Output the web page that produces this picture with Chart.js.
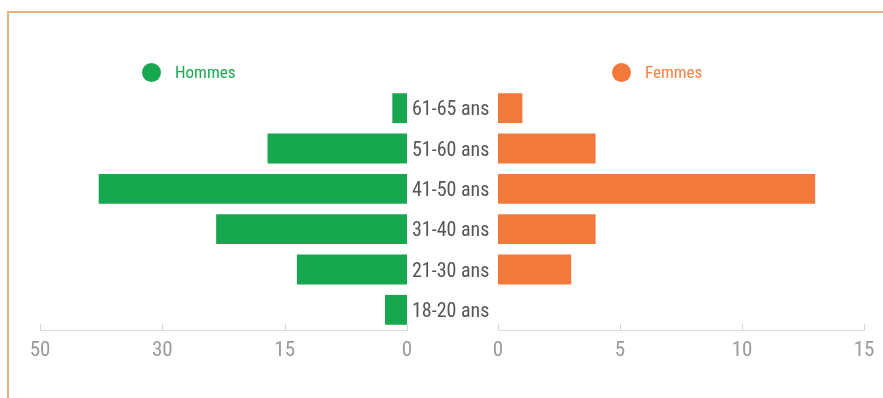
<!DOCTYPE html>
<html>
<head>
<meta charset="utf-8">
<script src="https://cdn.jsdelivr.net/npm/chart.js@4"></script>
<style>
  body { margin: 0; background: #fff; width: 883px; height: 398px; overflow: hidden; position: relative; }
  #cadre { position: absolute; left: 7px; top: 11px; width: 900px; height: 400px; border-top: 2px solid #e3b584; border-left: 2px solid #e3b584; }
  .leg { position: absolute; top: 60px; font-family: "Roboto Condensed", "DejaVu Sans", sans-serif; font-stretch: condensed; font-size: 17px; line-height: 24px; }
  .leg span { display: inline-block; width: 19px; height: 19px; border-radius: 50%; vertical-align: -4px; margin-right: 14px; }
  #wrapG { position: absolute; left: 0; top: 0; width: 520px; height: 398px; }
  #wrapD { position: absolute; left: 450px; top: 0; width: 433px; height: 398px; }
</style>
</head>
<body>
<div id="cadre"></div>
<div id="wrapD"><canvas id="canvasD"></canvas></div>
<div id="wrapG"><canvas id="canvasG"></canvas></div>
<div class="leg" id="legH" style="left:142px;color:#1aa852"><span style="background:#16a74f"></span>Hommes</div>
<div class="leg" id="legF" style="left:612px;color:#f4813f"><span style="background:#f3793b"></span>Femmes</div>
<script>
"use strict"

const tranches = ['61-65 ans', '51-60 ans', '41-50 ans', '31-40 ans', '21-30 ans', '18-20 ans'];
const hommes = [2, 19, 42, 26, 15, 3];
const femmes = [1, 4, 13, 4, 3, 0];
const ticksHommes = ['0', '15', '30', '50'];
const ticksFemmes = ['0', '5', '10', '15'];

const police = '"Roboto Condensed", "DejaVu Sans", sans-serif';

// police étroite : le contexte est remis à zéro au redimensionnement
const etroit = {
    id: 'etroit',
    beforeLayout(chart) { chart.ctx.fontStretch = 'condensed'; },
    beforeDraw(chart) { chart.ctx.fontStretch = 'condensed'; }
};

// petits traits de graduation au-dessus de l'axe
const traits = {
    id: 'traits',
    afterDraw(chart) {
        let s = chart.scales.x;
        let ctx = chart.ctx;
        ctx.save();
        ctx.strokeStyle = '#d6d6d6';
        ctx.lineWidth = 1;
        s.ticks.forEach((t, i) => {
            let x = Math.round(s.getPixelForTick(i)) + 0.5;
            ctx.beginPath();
            ctx.moveTo(x, s.top - 6);
            ctx.lineTo(x, s.top);
            ctx.stroke();
        });
        ctx.restore();
    }
};

function axeX(max, etiquettes, inverse) {
    return {
        min: 0,
        max: max,
        reverse: inverse,
        afterFit: s => { s.height = 40; },
        grid: { display: false, drawTicks: false },
        border: { display: true, color: '#dcdcdc', width: 1 },
        ticks: {
            count: 4,
            padding: 8,
            color: '#9a9a9a',
            font: { family: police, size: 21 },
            maxRotation: 0,
            callback: v => etiquettes[Math.round(v / max * 3)]
        }
    };
}

function creaPyramide(){
    let ctxG = document.getElementById('canvasG').getContext('2d');
    new Chart(ctxG, {
        type: 'bar',
        data: {
            labels: tranches,
            datasets: [{
                label: 'Hommes',
                data: hommes,
                backgroundColor: '#16a74f',
                categoryPercentage: 0.74,
                barPercentage: 1
            }]
        },
        options: {
            indexAxis: 'y',
            responsive: true,
            maintainAspectRatio: false,
            animation: false,
            layout: { padding: { left: 40, right: 0, top: 88, bottom: 28 } },
            plugins: { legend: { display: false }, tooltip: { enabled: false } },
            scales: {
                x: axeX(50, ticksHommes, true),
                y: {
                    position: 'right',
                    afterFit: s => { s.width = 113; },
                    grid: { display: false, drawTicks: false },
                    border: { display: false },
                    ticks: { padding: 5, labelOffset: 2, color: '#555', font: { family: police, size: 20 } }
                }
            }
        },
        plugins: [etroit, traits]
    });

    let ctxD = document.getElementById('canvasD').getContext('2d');
    new Chart(ctxD, {
        type: 'bar',
        data: {
            labels: tranches,
            datasets: [{
                label: 'Femmes',
                data: femmes,
                backgroundColor: '#f3793b',
                categoryPercentage: 0.74,
                barPercentage: 1
            }]
        },
        options: {
            indexAxis: 'y',
            responsive: true,
            maintainAspectRatio: false,
            animation: false,
            layout: { padding: { left: 48, right: 19, top: 88, bottom: 28 } },
            plugins: { legend: { display: false }, tooltip: { enabled: false } },
            scales: {
                x: axeX(15, ticksFemmes, false),
                y: { display: false }
            }
        },
        plugins: [etroit, traits]
    });
}

creaPyramide();
</script>
</body>
</html>
